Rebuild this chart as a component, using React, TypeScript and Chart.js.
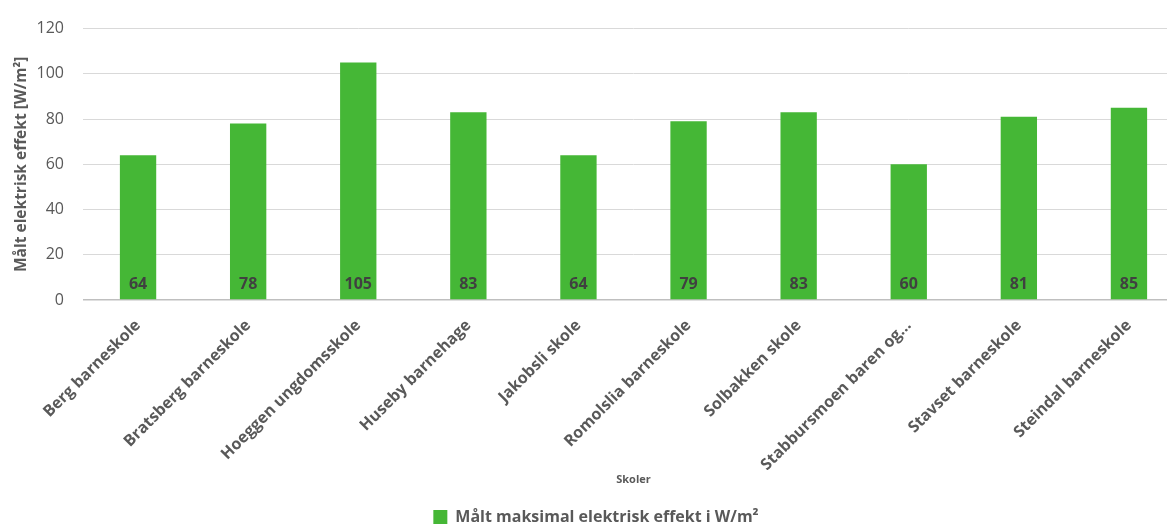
import React, { useEffect, useRef } from "react";
import { Chart, registerables } from "chart.js";

Chart.register(...registerables);

const schools: string[] = [
  "Berg barneskole",
  "Bratsberg barneskole",
  "Hoeggen ungdomsskole",
  "Huseby barnehage",
  "Jakobsli skole",
  "Romolslia barneskole",
  "Solbakken skole",
  "Stabbursmoen baren og…",
  "Stavset barneskole",
  "Steindal barneskole",
];

const maxPower: number[] = [64, 78, 105, 83, 64, 79, 83, 60, 81, 85];

const seriesName = "Målt maksimal elektrisk effekt i W/m²";
const yTitle = "Målt elektrisk effekt [W/m²]";
const xTitle = "Skoler";

const FONT = "'Open Sans', 'Noto Sans', sans-serif";
const GREEN = "#45B736";
const GREY_TEXT = "#595959";

// Value labels drawn inside each bar, near its base
const barValueLabels = {
  id: "barValueLabels",
  afterDatasetsDraw(chart: any) {
    const { ctx } = chart;
    const meta = chart.getDatasetMeta(0);
    const data = chart.data.datasets[0].data as number[];
    ctx.save();
    ctx.font = `bold 16px ${FONT}`;
    ctx.fillStyle = "#404040";
    ctx.textAlign = "center";
    ctx.textBaseline = "middle";
    meta.data.forEach((bar: any, i: number) => {
      ctx.fillText(String(data[i]), bar.x, bar.base - 15);
    });
    ctx.restore();
  },
};

export default function App() {
  const canvasRef = useRef<HTMLCanvasElement | null>(null);

  useEffect(() => {
    document.body.style.overflow = "hidden";
    const canvas = canvasRef.current;
    if (!canvas) return;
    const chart = new Chart(canvas, {
      type: "bar",
      data: {
        labels: schools,
        datasets: [
          {
            label: seriesName,
            data: maxPower,
            backgroundColor: GREEN,
            borderWidth: 0,
            categoryPercentage: 1,
            barPercentage: 0.33,
          },
        ],
      },
      options: {
        responsive: false,
        animation: false,
        layout: { padding: { left: 8, right: 8, top: 25, bottom: -7 } },
        plugins: {
          tooltip: { enabled: false },
          legend: {
            position: "bottom",
            labels: {
              color: GREY_TEXT,
              font: { family: FONT, size: 16, weight: "bold" },
              boxWidth: 14,
              boxHeight: 14,
              padding: 3,
            },
          },
        },
        scales: {
          x: {
            grid: { display: false },
            border: { display: false },
            ticks: {
              color: GREY_TEXT,
              font: { family: FONT, size: 16, weight: "bold" },
              maxRotation: 45,
              minRotation: 45,
              padding: 8,
              autoSkip: false,
            },
            title: {
              display: true,
              text: xTitle,
              color: GREY_TEXT,
              font: { family: FONT, size: 11, weight: "bold" },
              padding: { top: 4, bottom: 20 },
            },
            afterFit(scale: any) {
              const ch = scale.chart;
              const legendH = ch.legend ? ch.legend.height : 0;
              scale.height = ch.height - 300 - legendH + 7;
            },
          },
          y: {
            min: 0,
            max: 120,
            ticks: {
              stepSize: 20,
              color: GREY_TEXT,
              font: { family: FONT, size: 16 },
              padding: 19,
            },
            grid: {
              drawTicks: false,
              color: (c: any) => (c.tick && c.tick.value === 0 ? "#bfbfbf" : "#d9d9d9"),
              lineWidth: (c: any) => (c.tick && c.tick.value === 0 ? 1.5 : 1),
            },
            border: { display: false },
            title: {
              display: true,
              text: yTitle,
              color: GREY_TEXT,
              font: { family: FONT, size: 15.5, weight: "bold" },
              padding: { top: 4, bottom: 0 },
            },
            afterFit(scale: any) {
              scale.width = 75;
            },
          },
        },
      },
      plugins: [barValueLabels],
    });
    return () => chart.destroy();
  }, []);

  return (
    <div style={{ position: "fixed", left: 0, top: 0, width: 1192, height: 528, background: "#fff" }}>
      <canvas ref={canvasRef} width={1192} height={528} style={{ display: "block" }} />
    </div>
  );
}
